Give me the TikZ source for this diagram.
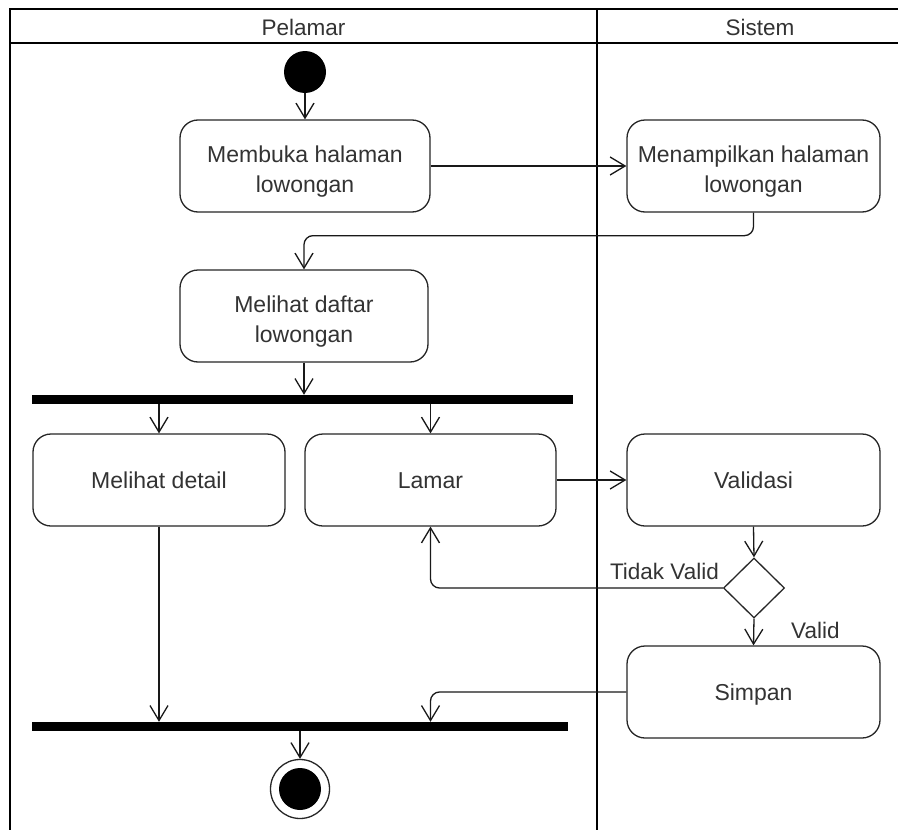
\documentclass[tikz,border=0pt]{standalone}
\usepackage{fontspec}
\setmainfont{Liberation Sans}
\usetikzlibrary{arrows.meta,shapes.geometric,calc}
\definecolor{txt}{HTML}{333333}
\newcommand{\topstrut}{\rule{0pt}{27pt}}
\tikzset{
  lane/.style={draw=black, line width=2.8pt},
  act/.style={draw=black!85, line width=1.3pt, rounded corners=18pt, minimum height=92pt, align=center, text=txt, font=\fontsize{23}{30}\selectfont, inner sep=0pt},
  actone/.style={act, text height=16.5pt, text depth=0pt},
  bar/.style={fill=black, draw=none, inner sep=0pt},
  arr/.style={draw=black!90, line width=1.3pt, -{Straight Barb[length=15pt,width=18pt,line width=1.3pt]}, rounded corners=9pt},
  lbl/.style={text=txt, font=\fontsize{22.5}{27}\selectfont, inner sep=0pt},
}
\begin{document}
\begin{tikzpicture}[x=1pt,y=-1pt]
\useasboundingbox (0,0) rectangle (898,830);
\clip (0,0) rectangle (898,830);
\fill[white] (0,0) rectangle (898,830);
% swimlanes
\draw[lane] (10,9) rectangle (925,870);
\draw[lane] (10,43) -- (925,43);
\draw[lane] (597,9) -- (597,870);
\node[lbl] (hp) at (303.5,27) {Pelamar};
\node[lbl] (hs) at (760,27) {Sistem};
% nodes
\node[circle, fill=black, minimum size=42pt, inner sep=0pt] (start) at (305,72) {};
\node[act, minimum width=250pt] (b1) at (305,166) {\topstrut Membuka halaman\\lowongan};
\node[act, minimum width=253pt] (b2) at (753.5,166) {\topstrut Menampilkan halaman\\lowongan};
\node[act, minimum width=248pt] (b3) at (304,316) {\topstrut Melihat daftar\\lowongan};
\node[bar, minimum width=541pt, minimum height=9pt] (fork) at (302.5,399.5) {};
\node[actone, minimum width=252pt] (b4) at (159,480) {Melihat detail};
\node[actone, minimum width=251pt] (b5) at (430.5,480) {Lamar};
\node[actone, minimum width=253pt] (b6) at (753.5,480) {Validasi};
\node[diamond, draw=black!85, line width=1.3pt, minimum width=61pt, minimum height=60pt, inner sep=0pt] (dec) at (754,588) {};
\node[actone, minimum width=253pt] (b7) at (753.5,692) {Simpan};
\node[bar, minimum width=536pt, minimum height=9pt] (join) at (300,726.5) {};
\node[circle, draw=black!85, line width=1.3pt, minimum size=59pt, inner sep=0pt] (final) at (300,789) {};
\node[circle, fill=black, minimum size=42pt, inner sep=0pt] (finalin) at (final) {};
% labels
\node[lbl, anchor=east] (ltv) at (719,571) {Tidak Valid};
\node[lbl, anchor=west] (lv) at (791,630) {Valid};
% connectors
\draw[arr] (start) -- (b1);
\draw[arr] (b1.east) -- (b2.west);
\draw[arr] (b2.south) -- ++(0,23) -| (b3.north);
\draw[arr] (b3.south) -- (b3.south |- fork.north);
\draw[arr] (b4.north |- fork.south) -- (b4.north);
\draw[arr] (b5.north |- fork.south) -- (b5.north);
\draw[arr] (b5.east) -- (b6.west);
\draw[arr] (b6.south) -- (dec.north);
\draw[arr] (dec.west) -| (b5.south);
\draw[arr] (dec.south) -- (b7.north);
\draw[arr] (b4.south) -- (b4.south |- join.north);
\draw[arr] (b7.west) -| (b5.south |- join.north);
\draw[arr] (join.south) -- (final.north);
\end{tikzpicture}
\end{document}
